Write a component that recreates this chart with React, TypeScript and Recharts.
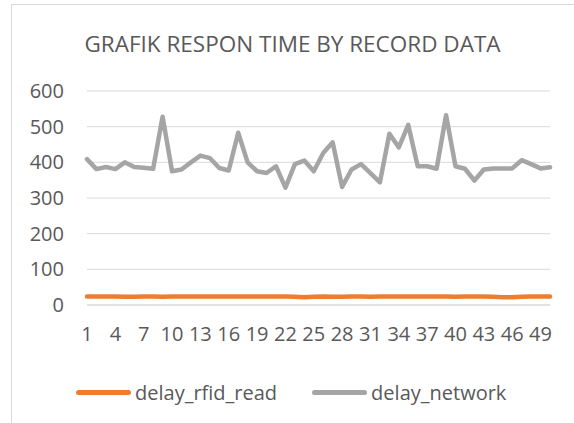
import { CartesianGrid, Line, LineChart, XAxis, YAxis } from "recharts";

const records = Array.from({ length: 50 }, (_, i) => String(i + 1));

const delayRfidRead = [
  24, 24, 24, 24, 23, 23, 24, 24, 23, 24, 24, 24, 24, 24, 24, 24, 24, 24, 24, 24,
  24, 24, 23, 22, 23, 24, 23, 23, 24, 24, 23, 24, 24, 24, 24, 24, 24, 24, 24, 23,
  24, 24, 24, 23, 22, 22, 23, 24, 24, 24,
];

const delayNetwork = [
  409, 381, 387, 381, 400, 387, 385, 382, 528, 375, 380, 400, 419, 412, 384, 377, 483,
  400, 375, 370, 389, 329, 395, 405, 375, 426, 456, 331, 380, 395, 370, 344, 480, 442,
  505, 389, 389, 382, 532, 389, 382, 349, 380, 383, 383, 383, 406, 395, 383, 386,
];

const yTicks = [0, 100, 200, 300, 400, 500, 600];

const series = [
  { key: "delay_rfid_read", color: "#ed7d31" },
  { key: "delay_network", color: "#a5a5a5" },
];

const data = records.map((rec, i) => ({
  rec,
  delay_rfid_read: delayRfidRead[i],
  delay_network: delayNetwork[i],
}));

const font = "'Open Sans', sans-serif";
const textColor = "#595959";

function ChartLegend() {
  return (
    <div
      style={{
        position: "absolute",
        top: 378,
        left: 76,
        height: 28,
        display: "flex",
        alignItems: "center",
        fontFamily: font,
        fontSize: 20,
        color: textColor,
      }}
    >
      {series.map((s, i) => (
        <div key={s.key} style={{ display: "flex", alignItems: "center", marginRight: i === 0 ? 35 : 0 }}>
          <span style={{ display: "inline-block", width: 55, height: 5, borderRadius: 3, background: s.color, marginRight: 4 }} />
          <span>{s.key}</span>
        </div>
      ))}
    </div>
  );
}

export default function App() {
  return (
    <div style={{ position: "absolute", left: 0, top: 0, width: 574, height: 423, overflow: "hidden", background: "#fff" }}>
      <div style={{ position: "absolute", left: 11, top: 4, width: 700, height: 600, border: "1px solid #d9d9d9" }} />
      <div
        style={{
          position: "absolute",
          top: 28,
          left: 0,
          width: 585,
          textAlign: "center",
          fontFamily: font,
          fontSize: 22.5,
          color: textColor,
        }}
      >
        GRAFIK RESPON TIME BY RECORD DATA
      </div>
      <LineChart
        width={574}
        height={423}
        data={data}
        margin={{ top: 91, right: 24, bottom: 0, left: 0 }}
        style={{ position: "absolute", left: 0, top: 0 }}
      >
        <CartesianGrid stroke="#d9d9d9" vertical={false} />
        <XAxis
          dataKey="rec"
          interval={2}
          axisLine={{ stroke: "#d9d9d9" }}
          tickLine={false}
          tickSize={0}
          tickMargin={22}
          height={118}
          tick={{ fill: textColor, fontSize: 20, fontFamily: font }}
        />
        <YAxis
          domain={[0, 600]}
          ticks={yTicks}
          axisLine={false}
          tickLine={false}
          tickSize={0}
          tickMargin={23}
          width={87}
          tick={{ fill: textColor, fontSize: 20, fontFamily: font }}
        />
        {series.map((s) => (
          <Line
            key={s.key}
            dataKey={s.key}
            stroke={s.color}
            strokeWidth={4.5}
            strokeLinecap="round"
            strokeLinejoin="round"
            dot={false}
            activeDot={false}
            type="linear"
            isAnimationActive={false}
          />
        ))}
      </LineChart>
      <ChartLegend />
    </div>
  );
}
